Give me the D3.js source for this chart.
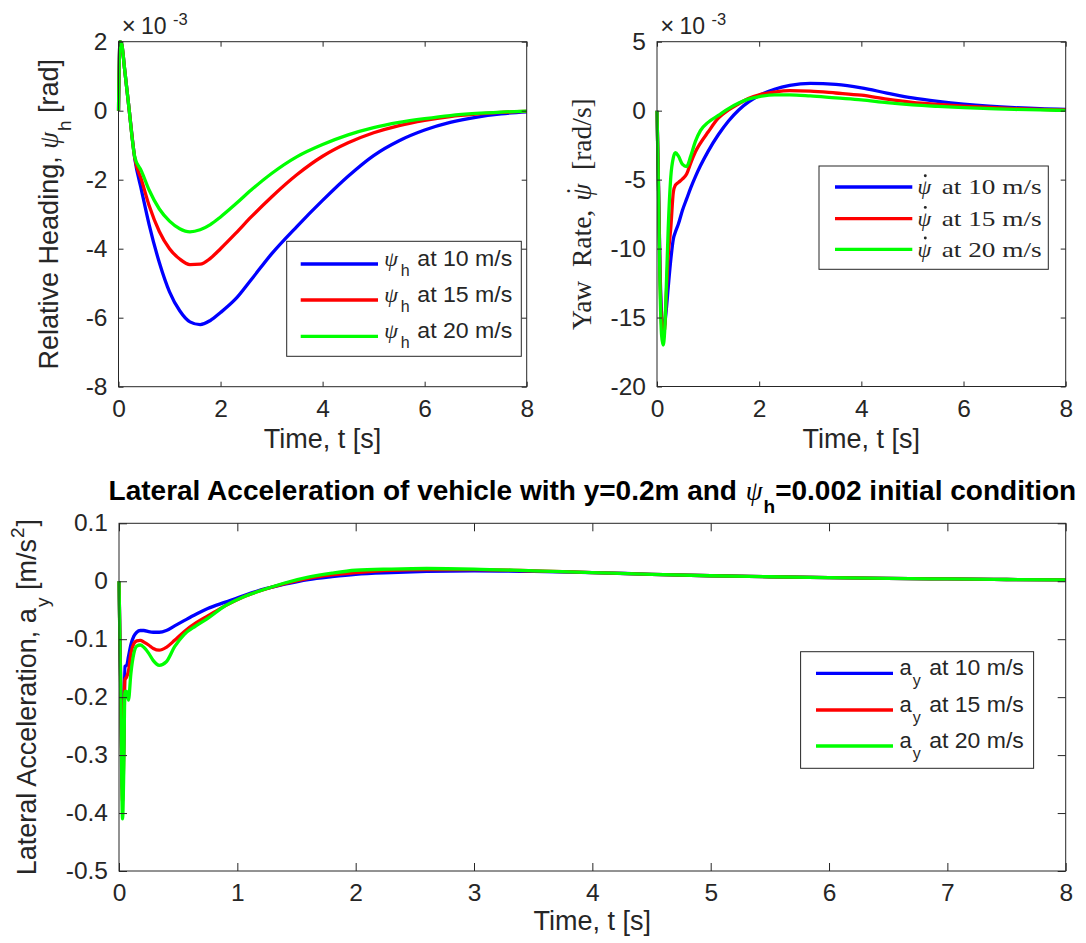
<!DOCTYPE html>
<html>
<head>
<meta charset="utf-8">
<script src="https://cdn.jsdelivr.net/npm/d3@7"></script>
<style>
  html, body { margin: 0; padding: 0; background: #fff; }
  svg { display: block; }
  text { white-space: pre; }
</style>
</head>
<body>
<svg id="fig" width="1086" height="943"></svg>
<script>
// ---------------- data ----------------
const speeds = ["10", "15", "20"];
const lineColors = ["#0000ff", "#ff0000", "#00ff00"];

// Relative heading psi_h, in units of 1e-3 rad
const headingTime = [0, 0.03, 0.06, 0.12, 0.2, 0.32, 0.45, 0.6, 0.8, 1.0, 1.2, 1.4, 1.6, 1.8, 2.0, 2.3, 2.6, 3.0, 3.5, 4.0, 4.5, 5.0, 5.5, 6.0, 6.5, 7.0, 7.5, 8.0];
const heading10 = [0, 2.0, 1.95, 1.2, 0.15, -1.4, -2.3, -3.3, -4.4, -5.25, -5.8, -6.12, -6.2, -6.08, -5.85, -5.45, -4.9, -4.15, -3.35, -2.6, -1.9, -1.3, -0.87, -0.56, -0.34, -0.19, -0.09, -0.03];
const heading15 = [0, 2.0, 1.95, 1.2, 0.15, -1.38, -2.0, -2.75, -3.5, -4.0, -4.3, -4.46, -4.45, -4.28, -4.0, -3.55, -3.08, -2.5, -1.85, -1.32, -0.93, -0.64, -0.43, -0.28, -0.17, -0.1, -0.05, -0.02];
const heading20 = [0, 2.0, 1.95, 1.2, 0.15, -1.35, -1.75, -2.3, -2.85, -3.2, -3.42, -3.51, -3.45, -3.3, -3.08, -2.7, -2.3, -1.82, -1.33, -0.98, -0.7, -0.49, -0.34, -0.23, -0.14, -0.08, -0.04, -0.01];

// Yaw rate, in units of 1e-3 rad/s
const yawTime = [0, 0.03, 0.06, 0.09, 0.12, 0.15, 0.18, 0.22, 0.27, 0.32, 0.36, 0.42, 0.5, 0.58, 0.66, 0.75, 0.85, 1.0, 1.2, 1.4, 1.6, 1.8, 2.0, 2.3, 2.6, 3.0, 3.5, 4.0, 4.5, 5.0, 5.5, 6.0, 6.5, 7.0, 7.5, 8.0];
const yaw10 = [0, -5.5, -11.5, -14.8, -15.8, -15.5, -14.5, -12.8, -10.8, -9.3, -8.8, -8.2, -7.2, -6.4, -5.6, -4.8, -4.0, -2.95, -1.75, -0.75, 0.05, 0.65, 1.1, 1.55, 1.83, 1.98, 1.9, 1.65, 1.28, 0.93, 0.68, 0.48, 0.33, 0.22, 0.14, 0.1];
const yaw15 = [0, -5.5, -12, -15.5, -16.3, -15.8, -13.5, -10.5, -8.5, -5.9, -5.4, -5.2, -4.95, -4.6, -3.8, -3.0, -2.35, -1.55, -0.55, 0.05, 0.5, 0.9, 1.15, 1.35, 1.45, 1.42, 1.28, 1.12, 0.83, 0.6, 0.45, 0.33, 0.23, 0.15, 0.09, 0.05];
const yaw20 = [0, -6, -13, -16.3, -17.0, -16.0, -13.0, -8.5, -4.8, -3.4, -3.05, -3.3, -3.9, -4.05, -3.3, -2.25, -1.45, -0.85, -0.35, 0.15, 0.55, 0.85, 1.02, 1.15, 1.15, 1.07, 0.92, 0.78, 0.58, 0.42, 0.31, 0.22, 0.15, 0.09, 0.05, 0.02];

// Lateral acceleration a_y, m/s^2
const accTime = [0, 0.015, 0.03, 0.04, 0.05, 0.065, 0.08, 0.1, 0.125, 0.15, 0.18, 0.21, 0.25, 0.29, 0.34, 0.4, 0.47, 0.55, 0.65, 0.75, 0.9, 1.05, 1.2, 1.4, 1.6, 1.8, 2.0, 2.3, 2.6, 3.0, 3.5, 4.0, 4.5, 5.0, 5.5, 6.0, 6.5, 7.0, 7.5, 8.0];
const acc10 = [0, -0.18, -0.36, -0.28, -0.147, -0.145, -0.13, -0.11, -0.095, -0.088, -0.085, -0.085, -0.087, -0.088, -0.088, -0.085, -0.077, -0.068, -0.057, -0.047, -0.036, -0.025, -0.015, -0.005, 0.003, 0.008, 0.012, 0.015, 0.017, 0.018, 0.017, 0.015, 0.012, 0.0095, 0.0078, 0.0063, 0.005, 0.004, 0.003, 0.0022];
const acc15 = [0, -0.19, -0.38, -0.3, -0.17, -0.165, -0.155, -0.125, -0.108, -0.103, -0.102, -0.105, -0.11, -0.116, -0.119, -0.114, -0.102, -0.087, -0.072, -0.06, -0.042, -0.027, -0.016, -0.004, 0.005, 0.011, 0.015, 0.019, 0.02, 0.02, 0.018, 0.015, 0.012, 0.0095, 0.0078, 0.0063, 0.005, 0.004, 0.003, 0.0022];
const acc20 = [0, -0.2, -0.41, -0.33, -0.19, -0.19, -0.205, -0.16, -0.125, -0.112, -0.11, -0.114, -0.124, -0.137, -0.145, -0.139, -0.113, -0.092, -0.077, -0.064, -0.042, -0.027, -0.016, -0.003, 0.007, 0.014, 0.019, 0.021, 0.022, 0.021, 0.018, 0.015, 0.012, 0.0095, 0.0078, 0.0063, 0.005, 0.004, 0.003, 0.0022];

// tick values and labels
const topTicksX = [0, 2, 4, 6, 8];
const topTickLabelsX = ["0", "2", "4", "6", "8"];
const headingTicksY = [-8, -6, -4, -2, 0, 2];
const headingTickLabelsY = ["-8", "-6", "-4", "-2", "0", "2"];
const yawTicksY = [-20, -15, -10, -5, 0, 5];
const yawTickLabelsY = ["-20", "-15", "-10", "-5", "0", "5"];
const accTicksX = [0, 1, 2, 3, 4, 5, 6, 7, 8];
const accTickLabelsX = ["0", "1", "2", "3", "4", "5", "6", "7", "8"];
const accTicksY = [-0.5, -0.4, -0.3, -0.2, -0.1, 0, 0.1];
const accTickLabelsY = ["-0.5", "-0.4", "-0.3", "-0.2", "-0.1", "0", "0.1"];

// ---------------- drawing ----------------
const ink = "#262626";
const sans = "'Liberation Sans', Arial, Helvetica, sans-serif";
const serif = "'Liberation Serif', 'Times New Roman', serif";
const dotAccent = "˙";
const svg = d3.select("#fig");
svg.append("rect").attr("width", 1086).attr("height", 943).attr("fill", "#fff");

// Lay out a run of differently styled pieces on one baseline; returns group and width.
// A piece flagged with `dot` gets a dot accent centred above it (time derivative).
function inlineText(parent, parts, base) {
  const g = parent.append("g");
  let cx = 0;
  parts.forEach(p => {
    const size = p.size || base.size;
    const x0 = cx + (p.gap || 0);
    const t = g.append("text")
      .attr("font-family", p.family || base.family)
      .attr("font-size", size)
      .attr("font-style", p.italic ? "italic" : "normal")
      .attr("font-weight", p.weight || base.weight || "normal")
      .attr("fill", base.fill || ink)
      .attr("y", p.shift || 0)
      .attr("x", x0);
    t.append("tspan").text(p.t);
    const w = t.node().getComputedTextLength();
    if (p.dot) {
      const d = t.append("tspan").text(dotAccent).attr("font-style", "normal");
      const dw = d.node().getComputedTextLength();
      d.attr("x", x0 + w / 2 + (p.nudge || 0) - dw / 2).attr("y", (p.shift || 0) - p.dot);
    }
    cx = x0 + w;
  });
  return { g, width: cx };
}

function drawPanel(p) {
  const x = d3.scaleLinear().domain([0, 8]).range([p.left, p.right]);
  const y = d3.scaleLinear().domain(p.yDomain).range([p.bottom, p.top]);
  const g = svg.append("g");

  const clipId = "clip-" + p.id;
  g.append("clipPath").attr("id", clipId).append("rect")
    .attr("x", p.left - 2).attr("y", p.top - 3)
    .attr("width", p.right - p.left + 4).attr("height", p.bottom - p.top + 6);

  const line = d3.line().x(d => x(d[0])).y(d => y(d[1])).curve(d3.curveMonotoneX);
  p.series.forEach((vals, i) => {
    g.append("path")
      .datum(d3.zip(p.time, vals))
      .attr("clip-path", `url(#${clipId})`)
      .attr("fill", "none")
      .attr("stroke", lineColors[i])
      .attr("stroke-width", 3.3)
      .attr("stroke-linejoin", "round")
      .attr("d", line);
  });

  const tick = p.tick;
  const styleAxis = sel => {
    sel.attr("font-size", null).attr("font-family", null).attr("color", ink);
    sel.select(".domain").remove();
  };

  // bottom axis with labels
  const xb = g.append("g").attr("transform", `translate(0,${p.bottom})`)
    .call(d3.axisBottom(x).tickValues(p.xTicks).tickSize(-tick).tickSizeOuter(0)
      .tickFormat((d, i) => p.xLabels[i]));
  styleAxis(xb);
  xb.selectAll("text").attr("y", p.xLabelBase - p.bottom).attr("dy", null)
    .attr("font-family", sans).attr("font-size", 24.5).attr("fill", ink);

  // left axis with labels
  const yl = g.append("g").attr("transform", `translate(${p.left},0)`)
    .call(d3.axisLeft(y).tickValues(p.yTicks).tickSize(-tick).tickSizeOuter(0)
      .tickFormat((d, i) => p.yLabels[i]));
  styleAxis(yl);
  yl.selectAll("text").attr("x", -11).attr("y", 7.5).attr("dy", null)
    .attr("font-family", sans).attr("font-size", 24.5).attr("fill", ink);

  // mirrored ticks on top and right edges
  const xt = g.append("g").attr("transform", `translate(0,${p.top})`)
    .call(d3.axisTop(x).tickValues(p.xTicks).tickSize(-tick).tickSizeOuter(0).tickFormat(""));
  styleAxis(xt);
  const yr = g.append("g").attr("transform", `translate(${p.right},0)`)
    .call(d3.axisRight(y).tickValues(p.yTicks).tickSize(-tick).tickSizeOuter(0).tickFormat(""));
  styleAxis(yr);

  g.append("rect")
    .attr("x", p.left).attr("y", p.top)
    .attr("width", p.right - p.left).attr("height", p.bottom - p.top)
    .attr("fill", "none").attr("stroke", ink).attr("stroke-width", 1);

  // x-axis title
  g.append("text").text("Time, t [s]")
    .attr("x", (p.left + p.right) / 2).attr("y", p.xTitleBase)
    .attr("text-anchor", "middle").attr("font-family", sans).attr("font-size", 27).attr("fill", ink);

  // y-axis title, rotated
  const yt = g.append("g").attr("transform", `translate(${p.yTitleX},${(p.top + p.bottom) / 2}) rotate(-90)`);
  const run = inlineText(yt, p.yTitleParts, { family: p.yTitleFamily, size: p.yTitleSize || 27 });
  run.g.attr("transform", `translate(${-run.width / 2},0)`);

  // exponent note
  if (p.exponent) {
    g.append("text").text("×").attr("x", p.left + 3.2).attr("y", p.top - 8.2)
      .attr("font-family", sans).attr("font-size", 24).attr("fill", ink);
    g.append("text").text("10").attr("x", p.left + 22.5).attr("y", p.top - 8.2)
      .attr("font-family", sans).attr("font-size", 23).attr("fill", ink);
    g.append("text").text(p.exponent).attr("x", p.left + 54.5).attr("y", p.top - 17)
      .attr("font-family", sans).attr("font-size", 16.5).attr("fill", ink);
  }

  // legend
  const L = p.legend;
  const lg = g.append("g");
  lg.append("rect").attr("x", L.x0).attr("y", L.y0)
    .attr("width", L.x1 - L.x0).attr("height", L.y1 - L.y0)
    .attr("fill", "#fff").attr("stroke", ink).attr("stroke-width", 1);
  L.rows.forEach((ry, i) => {
    lg.append("line").attr("x1", L.lineX0).attr("x2", L.lineX1).attr("y1", ry).attr("y2", ry)
      .attr("stroke", lineColors[i]).attr("stroke-width", 3.3);
    L.label(lg, ry, i);
  });
}

// top-left: relative heading
drawPanel({
  id: "heading",
  left: 118.5, right: 526.7, top: 41.7, bottom: 386.7, tick: 5,
  yDomain: [-8, 2],
  time: headingTime, series: [heading10, heading15, heading20],
  xTicks: topTicksX, xLabels: topTickLabelsX,
  yTicks: headingTicksY, yLabels: headingTickLabelsY,
  xLabelBase: 416.7, xTitleBase: 448,
  yTitleX: 57.5, yTitleFamily: sans,
  yTitleParts: [
    { t: "Relative Heading, " },
    { t: "ψ", family: serif, italic: true },
    { t: "h", size: 19, shift: 13, gap: 1 },
    { t: " [rad]", gap: 0 }
  ],
  exponent: "-3",
  legend: {
    x0: 286.7, y0: 241.3, x1: 521.3, y1: 356.3,
    lineX0: 300.7, lineX1: 378, rows: [264, 300, 336.3],
    label: (lg, ry, i) => {
      lg.append("text").text("ψ").attr("x", 384.2).attr("y", ry + 1.5)
        .attr("font-family", serif).attr("font-style", "italic").attr("font-size", 22).attr("fill", ink);
      lg.append("text").text("h").attr("x", 400.7).attr("y", ry + 11.5)
        .attr("font-family", sans).attr("font-size", 16).attr("fill", ink);
      lg.append("text").text(`at ${speeds[i]} m/s`).attr("x", 417.3).attr("y", ry + 1.5)
        .attr("font-family", sans).attr("font-size", 22).attr("fill", ink)
        .attr("textLength", 95).attr("lengthAdjust", "spacingAndGlyphs");
    }
  }
});

// top-right: yaw rate
drawPanel({
  id: "yaw",
  left: 657, right: 1065.7, top: 41.7, bottom: 386.5, tick: 5,
  yDomain: [-20, 5],
  time: yawTime, series: [yaw10, yaw15, yaw20],
  xTicks: topTicksX, xLabels: topTickLabelsX,
  yTicks: yawTicksY, yLabels: yawTickLabelsY,
  xLabelBase: 416.7, xTitleBase: 448,
  yTitleX: 591, yTitleFamily: serif, yTitleSize: 27.5,
  yTitleParts: [
    { t: "Yaw  Rate, " },
    { t: "ψ", italic: true, gap: 2, dot: 6, nudge: 1.5 },
    { t: "  [rad/s]", gap: 0 }
  ],
  exponent: "-3",
  legend: {
    x0: 819, y0: 166, x1: 1048.3, y1: 269.3,
    lineX0: 835, lineX1: 912.3, rows: [187, 218.7, 249.3],
    label: (lg, ry, i) => {
      lg.append("text").text("ψ").attr("x", 917.5).attr("y", ry + 7.3)
        .attr("font-family", serif).attr("font-style", "italic").attr("font-size", 22).attr("fill", ink);
      // dot accent marking the time derivative
      lg.append("circle").attr("cx", 925.3).attr("cy", ry - 11.3).attr("r", 1.45).attr("fill", ink);
      lg.append("text").text(`at ${speeds[i]} m/s`).attr("x", 941.7).attr("y", ry + 7.3)
        .attr("font-family", serif).attr("font-size", 22).attr("fill", ink)
        .attr("textLength", 100).attr("lengthAdjust", "spacingAndGlyphs");
    }
  }
});

// bottom: lateral acceleration
drawPanel({
  id: "acc",
  left: 119, right: 1065.7, top: 523.3, bottom: 871, tick: 8,
  yDomain: [-0.5, 0.1],
  time: accTime, series: [acc10, acc15, acc20],
  xTicks: accTicksX, xLabels: accTickLabelsX,
  yTicks: accTicksY, yLabels: accTickLabelsY,
  xLabelBase: 900.7, xTitleBase: 930,
  yTitleX: 36, yTitleFamily: sans,
  yTitleParts: [
    { t: "Lateral Acceleration, a" },
    { t: "y", size: 19, shift: 13, gap: 1 },
    { t: " [m/s" },
    { t: "2", size: 19, shift: -12, gap: 1 },
    { t: "]", gap: 1 }
  ],
  exponent: null,
  legend: {
    x0: 800.6, y0: 651.7, x1: 1033.6, y1: 768.3,
    lineX0: 816, lineX1: 893, rows: [673.3, 710, 746],
    label: (lg, ry, i) => {
      lg.append("text").text("a").attr("x", 899.5).attr("y", ry + 1.7)
        .attr("font-family", sans).attr("font-size", 22).attr("fill", ink);
      lg.append("text").text("y").attr("x", 912.8).attr("y", ry + 12.5)
        .attr("font-family", sans).attr("font-size", 16).attr("fill", ink);
      lg.append("text").text(`at ${speeds[i]} m/s`).attr("x", 929.3).attr("y", ry + 1.7)
        .attr("font-family", sans).attr("font-size", 22).attr("fill", ink)
        .attr("textLength", 94.5).attr("lengthAdjust", "spacingAndGlyphs");
    }
  }
});

// title over the bottom panel
const title = inlineText(svg, [
  { t: "Lateral Acceleration of vehicle with y=0.2m and " },
  { t: "ψ", family: serif, italic: true, weight: "normal", size: 27, gap: 1 },
  { t: "h", size: 19, shift: 13, gap: 1 },
  { t: "=0.002 initial condition", gap: 0 }
], { family: sans, size: 28, weight: "bold", fill: "#000" });
title.g.attr("transform", `translate(${592.4 - title.width / 2},500)`);
</script>
</body>
</html>
